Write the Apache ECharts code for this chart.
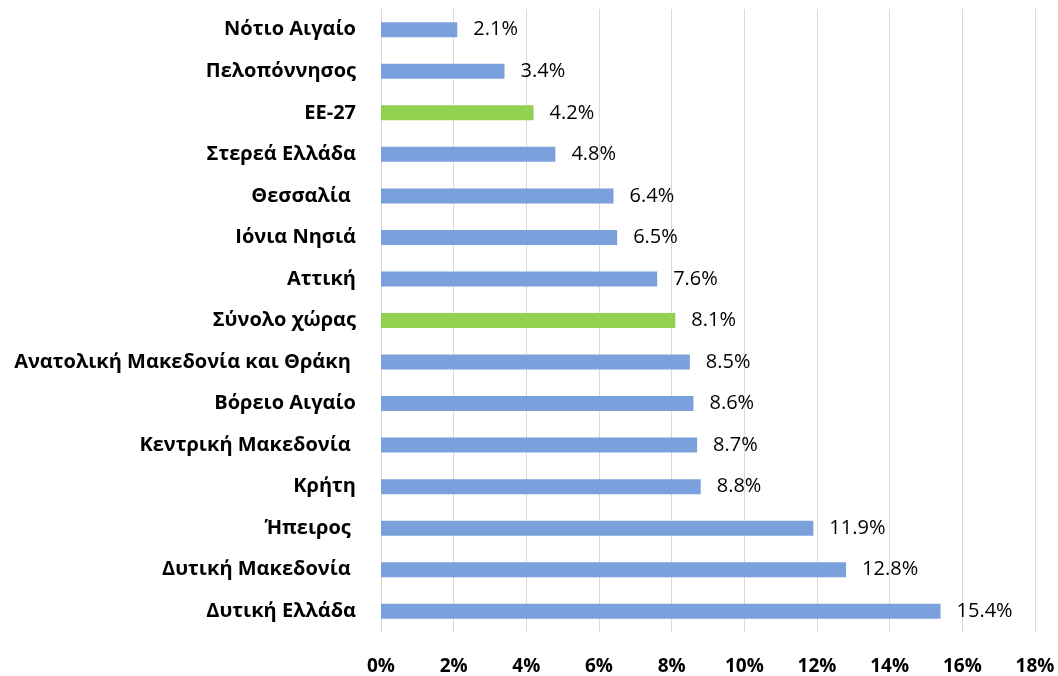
<!DOCTYPE html>
<html>
<head>
<meta charset="utf-8">
<script src="https://cdn.jsdelivr.net/npm/echarts@6/dist/echarts.min.js"></script>
<style>html,body{margin:0;padding:0;background:#fff}#c{width:1058px;height:676px}</style>
</head>
<body>
<div id="c"></div>
<script>
var categories = ['Νότιο Αιγαίο','Πελοπόννησος','ΕΕ-27','Στερεά Ελλάδα','Θεσσαλία ','Ιόνια Νησιά','Αττική','Σύνολο χώρας','Ανατολική Μακεδονία και Θράκη ','Βόρειο Αιγαίο','Κεντρική Μακεδονία ','Κρήτη','Ήπειρος ','Δυτική Μακεδονία ','Δυτική Ελλάδα'];
var values = [2.1,3.4,4.2,4.8,6.4,6.5,7.6,8.1,8.5,8.6,8.7,8.8,11.9,12.8,15.4];
var highlighted = ['ΕΕ-27','Σύνολο χώρας'];
var xTicks = [0,2,4,6,8,10,12,14,16,18];

var BLUE = '#7BA1DD', GREEN = '#92D050';
var FONT = 'Open Sans';
var chart = echarts.init(document.getElementById('c'), null, {renderer:'canvas'});
chart.setOption({
  animation:false,
  grid:{left:381,right:23,top:9,bottom:43,containLabel:false},
  xAxis:{type:'value',min:xTicks[0],max:xTicks[xTicks.length-1],interval:2,
    axisLine:{show:false},axisTick:{show:false},
    splitLine:{show:true,lineStyle:{color:'#d9d9d9',width:1}},
    axisLabel:{formatter:'{value}%',color:'#000',fontWeight:'bold',fontSize:19,fontFamily:FONT,margin:25}},
  yAxis:{type:'category',data:categories,inverse:true,
    axisLine:{show:true,lineStyle:{color:'#d9d9d9'}},axisTick:{show:false},
    axisLabel:{color:'#000',fontWeight:'bold',fontSize:20,fontFamily:FONT,margin:25}},
  series:[{type:'bar',barWidth:15,
    data:values.map(function(v,i){return {value:v,itemStyle:{color:highlighted.indexOf(categories[i])>=0?GREEN:BLUE}};}),
    label:{show:true,position:'right',distance:16,color:'#000',fontSize:20,fontFamily:FONT,
      formatter:function(p){return p.value.toFixed(1)+'%';}}}]
});
</script>
</body>
</html>
